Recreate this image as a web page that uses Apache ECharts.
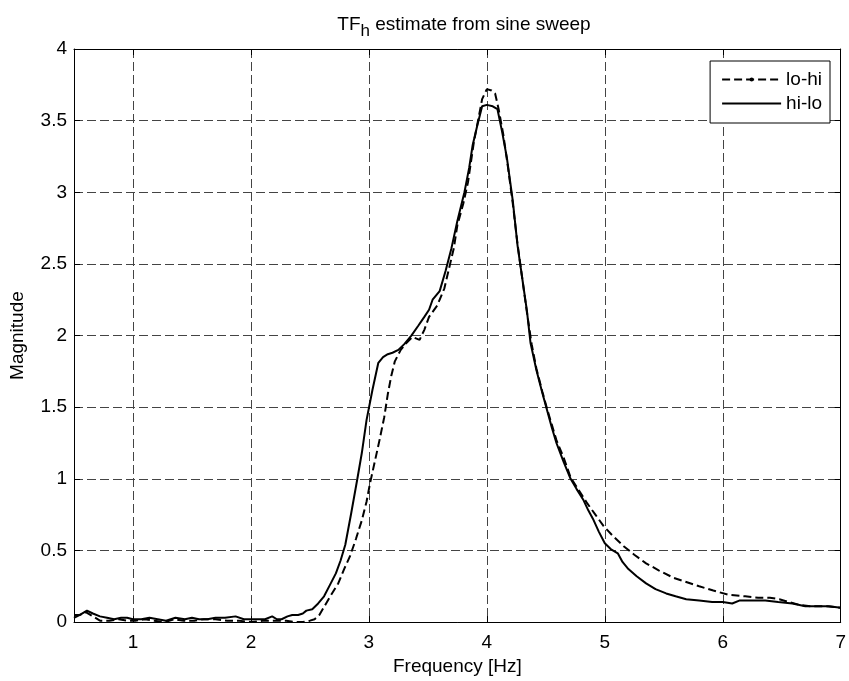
<!DOCTYPE html>
<html>
<head>
<meta charset="utf-8">
<script src="https://cdn.jsdelivr.net/npm/echarts@6/dist/echarts.min.js"></script>
<style>html,body{margin:0;padding:0;background:#fff}#c{width:849px;height:681px}</style>
</head>
<body>
<div id="c"></div>
<script>
// lo-hi (dashed)
var freqLoHi = [0.50,0.55,0.60,0.66,0.72,0.80,0.88,0.95,1.02,1.10,1.18,1.27,1.35,1.43,1.52,1.60,1.70,1.80,1.90,2.00,2.10,2.20,2.30,2.38,2.44,2.50,2.54,2.58,2.63,2.68,2.74,2.79,2.84,2.89,2.94,2.98,3.01,3.05,3.09,3.13,3.16,3.19,3.22,3.27,3.32,3.37,3.43,3.47,3.51,3.58,3.64,3.68,3.72,3.75,3.80,3.84,3.89,3.93,3.96,4.00,4.04,4.07,4.10,4.14,4.18,4.22,4.26,4.30,4.34,4.38,4.42,4.47,4.51,4.55,4.59,4.65,4.71,4.78,4.85,4.92,4.99,5.07,5.16,5.25,5.35,5.46,5.58,5.69,5.80,5.92,6.05,6.19,6.30,6.40,6.48,6.56,6.65,6.75,6.88,7.00];
var magLoHi  = [0.03,0.05,0.07,0.04,0.01,0.01,0.02,0.01,0.01,0.02,0.01,0.00,0.02,0.01,0.01,0.02,0.02,0.01,0.01,0.00,0.01,0.01,0.01,0.00,0.00,0.01,0.02,0.05,0.12,0.19,0.27,0.37,0.46,0.58,0.71,0.84,0.97,1.12,1.27,1.43,1.59,1.72,1.82,1.90,1.95,1.99,1.97,2.04,2.13,2.21,2.33,2.47,2.61,2.77,2.92,3.07,3.35,3.52,3.65,3.72,3.71,3.69,3.58,3.40,3.17,2.92,2.64,2.40,2.16,1.94,1.77,1.61,1.49,1.38,1.27,1.15,1.01,0.92,0.83,0.75,0.67,0.60,0.53,0.47,0.41,0.36,0.31,0.28,0.25,0.22,0.19,0.18,0.17,0.17,0.16,0.14,0.12,0.11,0.11,0.10];
// hi-lo (solid)
var freqHiLo = [0.50,0.55,0.61,0.66,0.72,0.78,0.84,0.90,0.95,1.00,1.07,1.14,1.21,1.28,1.36,1.44,1.50,1.56,1.63,1.70,1.78,1.87,1.94,2.01,2.07,2.12,2.18,2.22,2.26,2.31,2.35,2.40,2.44,2.47,2.52,2.57,2.62,2.67,2.72,2.76,2.80,2.85,2.90,2.94,2.98,3.03,3.08,3.12,3.16,3.20,3.25,3.30,3.36,3.42,3.47,3.51,3.54,3.60,3.65,3.70,3.75,3.81,3.85,3.88,3.92,3.96,4.00,4.05,4.09,4.13,4.17,4.22,4.26,4.30,4.34,4.37,4.42,4.47,4.51,4.55,4.59,4.65,4.71,4.76,4.82,4.86,4.90,4.95,5.00,5.05,5.11,5.15,5.20,5.27,5.35,5.43,5.52,5.60,5.69,5.80,5.91,6.00,6.08,6.14,6.25,6.36,6.47,6.59,6.70,6.80,6.90,7.00];
var magHiLo  = [0.05,0.05,0.08,0.06,0.04,0.03,0.02,0.03,0.03,0.02,0.02,0.03,0.02,0.01,0.03,0.02,0.03,0.02,0.02,0.03,0.03,0.04,0.02,0.02,0.02,0.02,0.04,0.02,0.02,0.04,0.05,0.05,0.06,0.08,0.09,0.13,0.18,0.26,0.34,0.43,0.54,0.76,0.99,1.18,1.41,1.62,1.81,1.85,1.87,1.88,1.90,1.94,2.00,2.07,2.13,2.18,2.25,2.31,2.45,2.61,2.80,3.00,3.17,3.33,3.47,3.60,3.61,3.60,3.58,3.42,3.24,2.94,2.63,2.40,2.17,1.95,1.76,1.60,1.48,1.36,1.25,1.12,1.00,0.93,0.85,0.78,0.72,0.63,0.55,0.51,0.48,0.42,0.37,0.32,0.27,0.23,0.20,0.18,0.16,0.15,0.14,0.14,0.13,0.15,0.15,0.15,0.14,0.13,0.11,0.11,0.11,0.10];
var seriesNames = ['lo-hi', 'hi-lo'];

function pairs(xs, ys){ return xs.map(function(x,i){ return [x, ys[i]]; }); }

var font = 'Liberation Sans, Arial, sans-serif';
var fs = 19;
var gridLine = {show:true, lineStyle:{color:'#444', width:1, type:[9,4]}};
var chart = echarts.init(document.getElementById('c'), null, {renderer:'canvas'});
chart.setOption({
  animation:false,
  backgroundColor:'#fff',
  title:{
    text:'{n|TF}{s|h}{n| estimate from sine sweep}',
    left:459, top:4, textAlign:'center',
    textStyle:{fontWeight:'normal', rich:{
      n:{fontFamily:font, fontSize:fs, fontWeight:'normal', color:'#000'},
      s:{fontFamily:font, fontSize:17, fontWeight:'normal', color:'#000', padding:[14,0,0,0]}
    }}
  },
  legend:{
    orient:'vertical', right:19, top:61,
    data:[
      {name:'lo-hi'},
      {name:'hi-lo', itemStyle:{opacity:0}, lineStyle:{color:'#000', width:2, type:'solid', opacity:1}}
    ],
    itemWidth:59, itemHeight:5, itemGap:5,
    padding:[9,8,10,11],
    borderColor:'#000', borderWidth:1, backgroundColor:'#fff',
    textStyle:{fontFamily:font, fontSize:fs, color:'#000'}
  },
  grid:{left:74, right:2, top:49, bottom:55, containLabel:false},
  xAxis:[{
    type:'value', min:0.5, max:7, splitNumber:6,
    name:'Frequency [Hz]', nameLocation:'middle', nameGap:34,
    nameTextStyle:{fontFamily:font, fontSize:fs, color:'#000'},
    axisLine:{show:true, onZero:false, lineStyle:{color:'#000', width:1}},
    axisTick:{show:true, inside:true, length:6, lineStyle:{color:'#000'}},
    axisLabel:{fontFamily:font, fontSize:fs, color:'#000', margin:11,
      formatter:function(v){ return (Math.abs(v-Math.round(v))<1e-9) ? String(Math.round(v)) : ''; }},
    splitLine:gridLine
  },{
    type:'value', min:0.5, max:7, splitNumber:6, position:'top',
    axisLine:{show:true, onZero:false, lineStyle:{color:'#000', width:1}},
    axisTick:{show:true, inside:true, length:6, lineStyle:{color:'#000'}},
    axisLabel:{show:false}, splitLine:{show:false}
  }],
  yAxis:[{
    type:'value', min:0, max:4, interval:0.5,
    name:'Magnitude', nameLocation:'middle', nameGap:47,
    nameTextStyle:{fontFamily:font, fontSize:fs, color:'#000'},
    axisLine:{show:true, onZero:false, lineStyle:{color:'#000', width:1}},
    axisTick:{show:true, inside:true, length:6, lineStyle:{color:'#000'}},
    axisLabel:{fontFamily:font, fontSize:fs, color:'#000', margin:7},
    splitLine:gridLine
  },{
    type:'value', min:0, max:4, interval:0.5, position:'right',
    axisLine:{show:true, onZero:false, lineStyle:{color:'#000', width:1}},
    axisTick:{show:true, inside:true, length:6, lineStyle:{color:'#000'}},
    axisLabel:{show:false}, splitLine:{show:false}
  }],
  series:[{
    name:seriesNames[0], type:'line', data:pairs(freqLoHi, magLoHi),
    symbol:'circle', symbolSize:5, showSymbol:false,
    itemStyle:{color:'#000'},
    lineStyle:{color:'#000', width:2, type:[8,4]}
  },{
    name:seriesNames[1], type:'line', data:pairs(freqHiLo, magHiLo),
    symbol:'none', itemStyle:{color:'#000'},
    lineStyle:{color:'#000', width:2}
  }]
});
</script>
</body>
</html>
